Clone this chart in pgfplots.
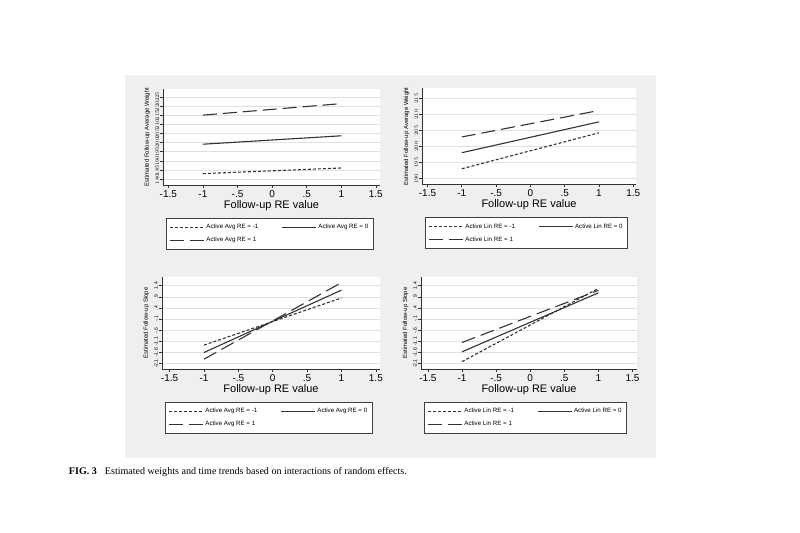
\documentclass[border=0pt]{standalone}
\usepackage{fontspec}
\setmainfont{Liberation Sans}
\newfontfamily\capfont{Liberation Serif}
\usepackage{pgfplots}
\pgfplotsset{compat=1.18}
\definecolor{bggray}{HTML}{EFEFEF}
\definecolor{ln}{HTML}{333333}
\pgfplotsset{
  stata/.style={
    scale only axis,
    anchor=south west,
    axis lines*=left,
    axis line style={black!80, line width=0.6bp},
    axis background/.style={fill=white},
    tick align=outside,
    major tick length=3bp,
    tick style={black!80, line width=0.6bp},
    ymajorgrids,
    major grid style={black!12, line width=0.5bp},
    xtick={-1.5,-1,-0.5,0,0.5,1,1.5},
    xticklabels={-1.5,-1,-.5,0,.5,1,1.5},
    xticklabel style={font=\fontsize{10}{10}\selectfont, yshift=1bp},
    yticklabel style={font=\fontsize{5}{5}\selectfont, rotate=90, anchor=south, inner sep=1bp},
    xlabel={Follow-up RE value},
    xlabel style={font=\fontsize{11}{11}\selectfont, yshift=4bp},
    every axis y label/.style={at={(axis description cs:-0.058,0.5)}, rotate=90, anchor=south, inner sep=0pt, font=\fontsize{6}{6}\selectfont},
    clip=false,
    legend columns=2,
    legend cell align=left,
    legend image code/.code={\draw[##1] (0bp,0bp) -- (34bp,0bp);},
    legend style={at={(axis description cs:0,0)}, anchor=north west,
      xshift=3bp, yshift=-33bp, draw=black!75, line width=0.6bp, fill=white,
      font=\fontsize{6.2}{6.2}\selectfont, inner xsep=3bp, inner ysep=4bp,
      row sep=3bp,
      /tikz/every even column/.append style={column sep=21bp}},
  },
  reA/.style={ln, line width=1.1bp, dash pattern=on 3bp off 2bp},
  reB/.style={ln, line width=1.1bp},
  reC/.style={ln, line width=1.1bp, dash pattern=on 14bp off 6bp},
}
\begin{document}
\begin{tikzpicture}[x=1bp,y=1bp]
\fill[white] (0,0) rectangle (800,533);
\useasboundingbox (0,0) rectangle (800,533);
\fill[bggray] (125,533-75) rectangle (656,533-458);

% Panel 1
\begin{axis}[stata, at={(163bp,348bp)}, width=217bp, height=96bp,
  xmin=-1.577, xmax=1.56, ymin=176.8, ymax=229.3,
  ytick={180,185,190,195,200,205,210,215,220,225},
  ylabel={Estimated Follow-up Average Weight}]
\addplot[reA] coordinates {(-1,183.0) (1,186.1)};
\addlegendentry{Active Avg RE = -1}
\addplot[reB] coordinates {(-1,199.1) (1,203.7)};
\addlegendentry{Active Avg RE = 0}
\addplot[reC] coordinates {(-1,215.0) (1,221.3)};
\addlegendentry{Active Avg RE = 1}
\end{axis}

% Panel 2
\begin{axis}[stata, at={(422bp,348.5bp)}, width=214bp, height=96bp,
  xmin=-1.58, xmax=1.54, ymin=188.2, ymax=218.1,
  ytick={190,195,200,205,210,215},
  ylabel={Estimated Follow-up Average Weight}]
\addplot[reA] coordinates {(-1,193.1) (1,204.3)};
\addlegendentry{Active Lin RE = -1}
\addplot[reB] coordinates {(-1,198.1) (1,207.7)};
\addlegendentry{Active Lin RE = 0}
\addplot[reC] coordinates {(-1,203.0) (1,211.25)};
\addlegendentry{Active Lin RE = 1}
\end{axis}

% Panel 3
\begin{axis}[stata, at={(162bp,164bp)}, width=218bp, height=92bp,
  xmin=-1.61, xmax=1.56, ymin=-2.34, ymax=1.79,
  ytick={-2.1,-1.6,-1.1,-0.6,-0.1,0.4,0.9,1.4},
  yticklabels={-2.1,-1.6,-1.1,-.6,-.1,.4,.9,1.4},
  ylabel={Estimated Follow-up Slope}]
\addplot[reA] coordinates {(-1,-1.27) (1,0.85)};
\addlegendentry{Active Avg RE = -1}
\addplot[reB] coordinates {(-1,-1.60) (1,1.20)};
\addlegendentry{Active Avg RE = 0}
\addplot[reC] coordinates {(-1,-1.90) (1,1.54)};
\addlegendentry{Active Avg RE = 1}
\end{axis}

% Panel 4
\begin{axis}[stata, at={(421bp,164bp)}, width=216bp, height=92bp,
  xmin=-1.60, xmax=1.565, ymin=-2.34, ymax=1.79,
  ytick={-2.1,-1.6,-1.1,-0.6,-0.1,0.4,0.9,1.4},
  yticklabels={-2.1,-1.6,-1.1,-.6,-.1,.4,.9,1.4},
  ylabel={Estimated Follow-up Slope}]
\addplot[reA] coordinates {(-1,-2.01) (1,1.28)};
\addlegendentry{Active Lin RE = -1}
\addplot[reB] coordinates {(-1,-1.57) (1,1.08)};
\addlegendentry{Active Lin RE = 0}
\addplot[reC] coordinates {(-1,-1.15) (1,1.19)};
\addlegendentry{Active Lin RE = 1}
\end{axis}

\node[anchor=west, inner sep=0pt, font=\capfont\fontsize{10.1}{10.1}\selectfont] at (68.8,61)
  {\textbf{FIG. 3}\hspace{8bp}Estimated weights and time trends based on interactions of random effects.};
\end{tikzpicture}
\end{document}
